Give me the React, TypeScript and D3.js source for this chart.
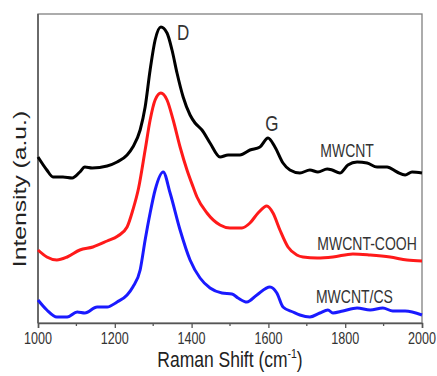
import React, { useEffect, useRef } from "react";
import * as d3 from "d3";

// Raman spectra (intensity in arbitrary units, stacked)
const mwcntShift = [1000, 1023, 1039, 1065, 1089, 1109, 1122, 1141, 1180, 1206, 1232, 1247, 1266, 1279, 1292, 1305, 1320, 1336, 1349, 1362, 1378, 1396, 1409, 1427, 1448, 1474, 1495, 1526, 1552, 1578, 1599, 1617, 1638, 1656, 1682, 1708, 1729, 1753, 1766, 1786, 1807, 1831, 1857, 1883, 1909, 1935, 1956, 1974, 2000];
const mwcntIntensity = [166, 153, 146, 146, 145, 151, 156, 155, 157, 161, 168, 176, 193, 216, 253, 283, 296, 290, 273, 250, 226, 208, 200, 193, 180, 166, 168, 168, 173, 176, 185, 176, 160, 153, 150, 153, 151, 154, 153, 150, 158, 161, 160, 156, 156, 151, 148, 151, 150];

const coohShift = [1000, 1023, 1049, 1076, 1109, 1143, 1180, 1208, 1232, 1247, 1262, 1279, 1292, 1305, 1320, 1336, 1352, 1370, 1388, 1404, 1414, 1440, 1474, 1500, 1531, 1552, 1573, 1596, 1612, 1630, 1651, 1674, 1690, 1727, 1768, 1820, 1865, 1917, 1961, 2000];
const coohIntensity = [73, 66, 63, 66, 73, 76, 82, 87, 96, 113, 135, 173, 203, 223, 230, 223, 203, 176, 153, 136, 126, 110, 98, 95, 95, 100, 110, 117, 110, 93, 76, 68, 66, 65, 66, 69, 68, 66, 63, 62];

const csShift = [1000, 1023, 1049, 1076, 1102, 1122, 1154, 1180, 1206, 1232, 1247, 1266, 1279, 1292, 1305, 1326, 1344, 1370, 1396, 1422, 1448, 1479, 1505, 1521, 1544, 1570, 1604, 1622, 1638, 1664, 1682, 1708, 1734, 1755, 1768, 1794, 1831, 1865, 1898, 1924, 1956, 2000];
const csIntensity = [23, 13, 6, 6, 11, 10, 16, 16, 21, 28, 36, 53, 83, 110, 133, 151, 130, 93, 63, 45, 35, 30, 29, 25, 21, 28, 36, 30, 16, 11, 8, 6, 10, 13, 10, 12, 15, 13, 15, 12, 12, 8];

const seriesNames = ["MWCNT", "MWCNT-COOH", "MWCNT/CS"];
const seriesColors = ["#000000", "#ff1a1a", "#1a1aff"];
const majorTicks = [1000, 1200, 1400, 1600, 1800, 2000];
const minorTicks = [1100, 1300, 1500, 1700, 1900];

const W = 437;
const H = 376;
const margin = { top: 14, right: 15, bottom: 53, left: 38 };
const SY = 1.3; // the original image is stretched vertically

const App = () => {
  const ref = useRef(null);

  useEffect(() => {
    const svg = d3.select(ref.current);
    svg.selectAll("*").remove();

    const x = d3
      .scaleLinear()
      .domain([1000, 2000])
      .range([margin.left, W - margin.right]);
    const y = d3
      .scaleLinear()
      .domain([0, 309])
      .range([H - margin.bottom, margin.top]);

    const series = [
      { name: seriesNames[0], xs: mwcntShift, ys: mwcntIntensity },
      { name: seriesNames[1], xs: coohShift, ys: coohIntensity },
      { name: seriesNames[2], xs: csShift, ys: csIntensity },
    ];

    // frame
    svg
      .append("rect")
      .attr("x", x(1000))
      .attr("y", y(309))
      .attr("width", x(2000) - x(1000))
      .attr("height", y(0) - y(309))
      .attr("fill", "none")
      .attr("stroke", "#808080")
      .attr("stroke-width", 1.3);

    // bottom axis
    const axis = svg.append("g").attr("transform", `translate(0,${y(0)})`);
    axis.call(d3.axisBottom(x).tickValues(majorTicks).tickSize(5).tickFormat(() => ""));
    axis.select(".domain").attr("stroke", "#555").attr("stroke-width", 1.5);
    axis.selectAll(".tick line").attr("stroke", "#555").attr("stroke-width", 1.3);

    svg
      .append("g")
      .selectAll("line")
      .data(minorTicks)
      .enter()
      .append("line")
      .attr("x1", (d) => x(d))
      .attr("x2", (d) => x(d))
      .attr("y1", y(0))
      .attr("y2", y(0) + 3)
      .attr("stroke", "#555")
      .attr("stroke-width", 1.3);

    // left axis line
    svg
      .append("line")
      .attr("x1", x(1000))
      .attr("x2", x(1000))
      .attr("y1", y(0))
      .attr("y2", y(309))
      .attr("stroke", "#555")
      .attr("stroke-width", 1.5);

    const font = "Arial, 'Liberation Sans', sans-serif";
    const label = (tx, ty, text, size, anchor = "middle") =>
      svg
        .append("text")
        .attr("transform", `translate(${tx},${ty}) scale(1,${SY})`)
        .attr("text-anchor", anchor)
        .attr("font-family", font)
        .attr("font-size", size)
        .attr("fill", "#333")
        .text(text);

    majorTicks.forEach((t) => label(x(t), 344, String(t), 12.6));

    const title = svg
      .append("text")
      .attr("transform", `translate(${(x(1000) + x(2000)) / 2},367) scale(1,${SY})`)
      .attr("text-anchor", "middle")
      .attr("font-family", font)
      .attr("font-size", 17.5)
      .attr("fill", "#222");
    title.append("tspan").text("Raman Shift (cm");
    title.append("tspan").attr("font-size", 10.5).attr("dy", -7).text("-1");
    title.append("tspan").attr("dy", 7).text(")");

    svg
      .append("text")
      .attr("transform", `translate(26,189) scale(1,${SY}) rotate(-90)`)
      .attr("text-anchor", "middle")
      .attr("font-family", font)
      .attr("font-size", 19)
      .attr("fill", "#222")
      .text("Intensity (a.u.)");

    // spectra
    const line = d3
      .line()
      .x((d) => x(d[0]))
      .y((d) => y(d[1]))
      .curve(d3.curveMonotoneX);

    series.forEach((s, i) => {
      svg
        .append("path")
        .datum(s.xs.map((v, j) => [v, s.ys[j]]))
        .attr("d", line)
        .attr("fill", "none")
        .attr("stroke", seriesColors[i])
        .attr("stroke-width", 3)
        .attr("stroke-linejoin", "round");
    });

    // annotations
    label(x(1378), 40, "D", 17);
    label(x(1609), 131, "G", 17);
    label(x(1805), 157, seriesNames[0], 14);
    label(x(1857), 250, seriesNames[1], 14);
    label(x(1824), 303, seriesNames[2], 14);
  }, []);

  return (
    <svg
      ref={ref}
      width={W}
      height={H}
      style={{ display: "block", position: "absolute", left: 0, top: 0 }}
    />
  );
};

export default App;
